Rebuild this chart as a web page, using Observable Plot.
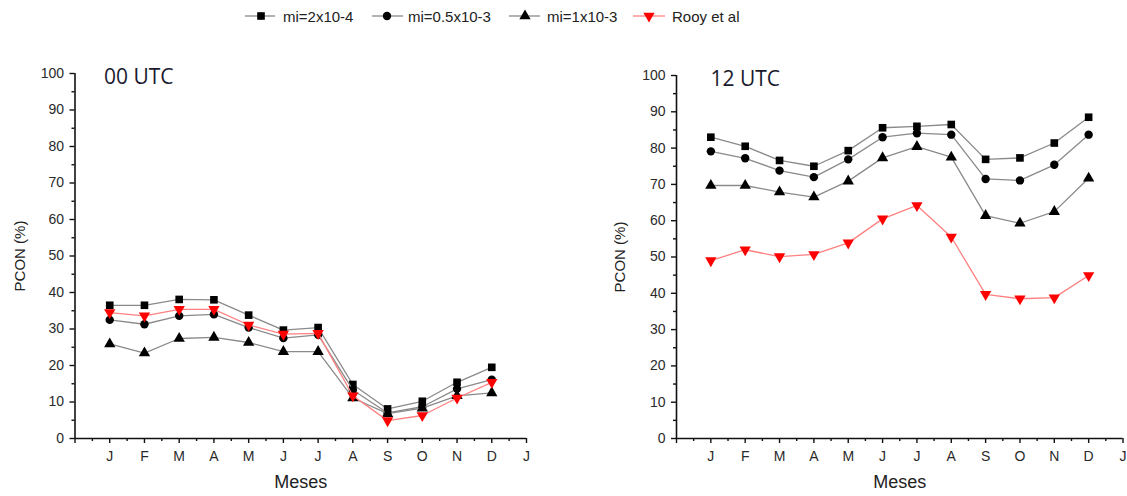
<!DOCTYPE html>
<html><head><meta charset="utf-8">
<script src="https://cdn.jsdelivr.net/npm/d3@7"></script>
<script src="https://cdn.jsdelivr.net/npm/@observablehq/plot@0.6"></script>
<style>
body{margin:0;background:#fff;font-family:"Liberation Sans",Arial,sans-serif}
#wrap{position:relative;width:1127px;height:496px;overflow:hidden;background:#fff}
#wrap > svg{position:absolute;top:0}
</style></head><body><div id="wrap"></div>
<script>
// ---- data ----
const months = [1,2,3,4,5,6,7,8,9,10,11,12];
const monthLabels = ["J","F","M","A","M","J","J","A","S","O","N","D","J"];
const seriesNames = ["mi=2x10-4","mi=0.5x10-3","mi=1x10-3","Rooy et al"];
const panelTitles = ["00 UTC","12 UTC"];
const yLabel = "PCON (%)";
const xLabel = "Meses";

const utc00_mi2e4  = [36.5, 36.5, 38.1, 38.0, 33.8, 29.7, 30.4, 14.8, 8.1, 10.2, 15.4, 19.5];
const utc00_mi05e3 = [32.5, 31.3, 33.6, 34.0, 30.4, 27.5, 28.4, 13.3, 7.0, 8.7, 13.6, 16.1];
const utc00_mi1e3  = [25.9, 23.4, 27.4, 27.7, 26.3, 23.8, 23.8, 11.1, 6.8, 8.3, 11.7, 12.5];
const utc00_rooy   = [34.5, 33.6, 35.4, 35.4, 31.1, 28.6, 28.8, 11.7, 4.9, 6.3, 11.1, 15.4];

const utc12_mi2e4  = [83.0, 80.5, 76.6, 75.0, 79.3, 85.6, 86.0, 86.5, 76.9, 77.3, 81.4, 88.5];
const utc12_mi05e3 = [79.1, 77.2, 73.8, 72.0, 76.9, 83.0, 84.1, 83.7, 71.5, 71.1, 75.4, 83.7];
const utc12_mi1e3  = [69.7, 69.7, 67.9, 66.5, 70.9, 77.3, 80.4, 77.5, 61.4, 59.3, 62.5, 71.7];
const utc12_rooy   = [49.0, 52.0, 50.1, 50.7, 53.9, 60.5, 64.2, 55.5, 39.7, 38.5, 38.8, 44.9];

// ---- styling per series ----
const styles = [
  {symbol:"square",   rotate:0,   fill:"#000", line:"#8a8a8a", r:4.3},
  {symbol:"circle",   rotate:0,   fill:"#000", line:"#8a8a8a", r:4.2},
  {symbol:"triangle", rotate:0,   fill:"#000", line:"#8a8a8a", r:4.2},
  {symbol:"triangle", rotate:180, fill:"#ff0000", line:"#ff8080", r:4.2}
];

function toRows(arrs){
  const rows = [];
  arrs.forEach((vals, si) => vals.forEach((v, i) => rows.push({month: months[i], value: v, series: seriesNames[si]})));
  return rows;
}

function panel(rows, title, o){
  const marks = [
    Plot.axisY({ticks: d3.range(0,101,10), tickSize:5, tickPadding:6, label:null, fontSize:14, stroke:"#111", strokeWidth:1.4, fill:"#2a2a2a"}),
    Plot.axisY({ticks: d3.range(5,100,10), tickSize:3, tickFormat: () => "", label:null, stroke:"#111", strokeWidth:1.4}),
    Plot.axisX({ticks: d3.range(0,14), tickSize:5, tickPadding:8, label:null, fontSize:14, stroke:"#111", strokeWidth:1.4, fill:"#2a2a2a",
      tickFormat: d => d === 0 ? "" : monthLabels[d-1]}),
    Plot.axisX({ticks: d3.range(0.5,13,1), tickSize:3, tickFormat: () => "", label:null, stroke:"#111", strokeWidth:1.4}),
    Plot.ruleX([0], {y1:0, y2:100, stroke:"#111", strokeWidth:1.6}),
    Plot.ruleY([0], {stroke:"#111", strokeWidth:1.6})
  ];
  seriesNames.forEach((name, si) => {
    const d = rows.filter(r => r.series === name);
    const s = styles[si];
    marks.push(Plot.line(d, {x:"month", y:"value", stroke:s.line, strokeWidth:1.3}));
    marks.push(Plot.dot(d, {x:"month", y:"value", symbol:s.symbol, rotate:s.rotate, fill:s.fill, stroke:"none", r:s.r}));
  });
  marks.push(Plot.text([title], {frameAnchor:"top-left", textAnchor:"start", dx:o.titleDx, dy:-4, fontSize:21, fill:"#1a1a2e",
    fontFamily:"'Open Sans', sans-serif", lineAnchor:"top"}));
  marks.push(Plot.text([yLabel], {frameAnchor:"left", textAnchor:"middle", rotate:-90, dx:o.ylabDx, fontSize:15, fill:"#222"}));
  marks.push(Plot.text([xLabel], {frameAnchor:"bottom", textAnchor:"middle", dy:49, fontSize:18, fill:"#222"}));
  return Plot.plot({
    width:o.width, height:496,
    marginLeft:o.ml, marginRight:o.mr, marginTop:o.mt, marginBottom:o.mb,
    style:{fontFamily:"'Liberation Sans', Arial, sans-serif", background:"transparent", overflow:"visible"},
    x:{domain:[0,13], axis:null},
    y:{domain:[0,100], axis:null},
    symbol:{type:"identity"},
    marks
  });
}

const wrap = document.getElementById("wrap");

const left = panel(toRows([utc00_mi2e4, utc00_mi05e3, utc00_mi1e3, utc00_rooy]), panelTitles[0],
  {width:545, ml:74.5, mr:19, mt:73, mb:58, titleDx:29, ylabDx:-55});
left.style.left = "0px";
wrap.appendChild(left);

const right = panel(toRows([utc12_mi2e4, utc12_mi05e3, utc12_mi1e3, utc12_rooy]), panelTitles[1],
  {width:567, ml:116, mr:4.5, mt:75, mb:58, titleDx:34, ylabDx:-56});
right.style.left = "560px";
wrap.appendChild(right);

// ---- legend ----
const legendItems = [
  {x0:245, x1:275, mx:261, tx:283},
  {x0:372, x1:403, mx:387, tx:408},
  {x0:509, x1:540, mx:525, tx:547},
  {x0:633, x1:665, mx:649, tx:672}
];
const leg = d3.create("svg").attr("width",1127).attr("height",36).style("left","0px");
const ly = 16;
seriesNames.forEach((name, i) => {
  const it = legendItems[i], s = styles[i];
  leg.append("line").attr("x1",it.x0).attr("x2",it.x1).attr("y1",ly).attr("y2",ly)
    .attr("stroke",s.line).attr("stroke-width",1.3);
  const sym = s.symbol === "square" ? d3.symbolSquare : s.symbol === "circle" ? d3.symbolCircle : d3.symbolTriangle;
  leg.append("path").attr("d", d3.symbol(sym, Math.PI*s.r*s.r)())
    .attr("transform", `translate(${it.mx},${ly}) rotate(${s.rotate})`).attr("fill", s.fill);
  leg.append("text").attr("x", it.tx).attr("y", ly+5.5).attr("font-size",15)
    .attr("font-family","'Liberation Sans', Arial, sans-serif").attr("fill","#222").text(name);
});
wrap.appendChild(leg.node());
</script>
</body></html>
